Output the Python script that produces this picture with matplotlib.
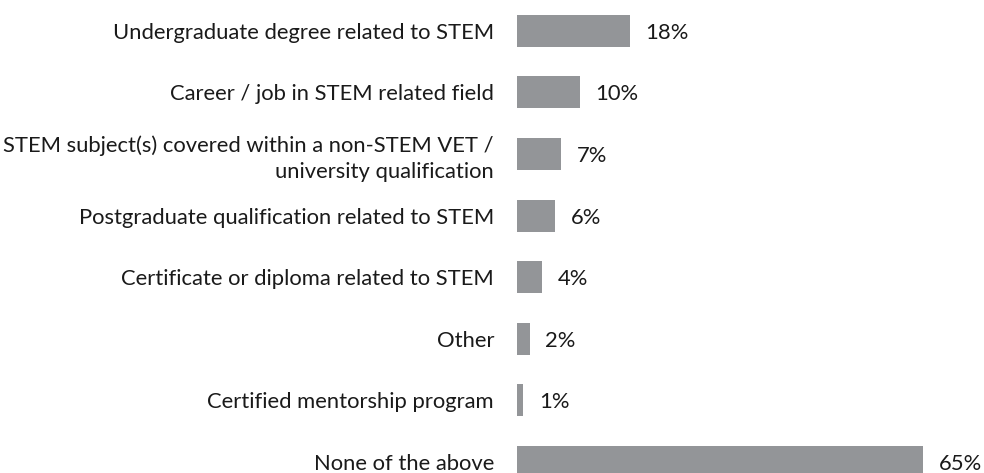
import matplotlib.pyplot as plt

labels = ["Undergraduate degree related to STEM",
          "Career / job in STEM related field",
          "STEM subject(s) covered within a non-STEM VET /\nuniversity qualification",
          "Postgraduate qualification related to STEM",
          "Certificate or diploma related to STEM",
          "Other",
          "Certified mentorship program",
          "None of the above"]
values = [18, 10, 7, 6, 4, 2, 1, 65]

plt.rcParams['font.family'] = ['Lato', 'DejaVu Sans']

W, H = 984, 473
row = 61.6  # px between bar centres
fig = plt.figure(figsize=(W / 100, H / 100), dpi=100)
# axes placed in pixels: left edge 517, 6.25 px per %
ax = fig.add_axes([517 / W, (H - 8 * row) / H, 437.5 / W, 8 * row / H])

y = list(range(len(values)))
ax.barh(y, values, height=0.52, color='#939598')
ax.set_xlim(0, 70)
ax.set_ylim(len(values) - 0.5, -0.5)

for yi, v in zip(y, values):
    ax.annotate(f"{v}%", (v, yi), xytext=(16, -2), textcoords='offset pixels',
                ha='left', va='center', fontsize=15.8, color='#1a1a1a')

ax.set_yticks(y)
ax.set_yticklabels(labels, fontsize=15.8, color='#1a1a1a', ha='right',
                   multialignment='right', linespacing=1.35)
ax.tick_params(axis='y', length=0, pad=16.5)
ax.set_xticks([])
for s in ax.spines.values():
    s.set_visible(False)

fig.savefig('out.png', dpi=100)
